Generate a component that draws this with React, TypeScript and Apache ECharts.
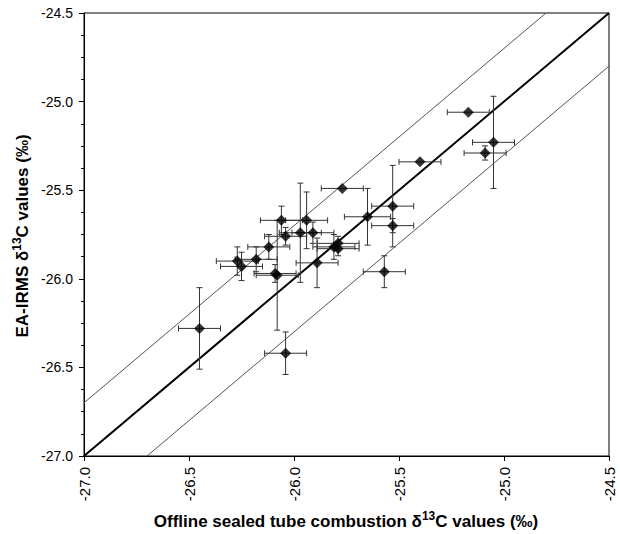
import React, { useEffect, useRef } from "react";
import * as echarts from "echarts";

// Offline sealed tube combustion δ13C (x) vs EA-IRMS δ13C (y), with 1σ errors
const xValues = [
  -26.45, -26.04, -25.17, -25.05, -25.09, -25.4, -25.77, -25.53, -25.65, -25.53,
  -25.57, -25.89, -25.81, -25.79, -25.79, -25.94, -26.06, -25.97, -25.91, -26.04,
  -26.12, -26.18, -26.27, -26.25, -26.08, -26.09,
];
const yValues = [
  -26.28, -26.42, -25.06, -25.23, -25.29, -25.34, -25.49, -25.59, -25.65, -25.7,
  -25.96, -25.91, -25.82, -25.8, -25.83, -25.67, -25.67, -25.74, -25.74, -25.76,
  -25.82, -25.89, -25.9, -25.93, -25.98, -25.97,
];
const xErrors = [
  0.1, 0.1, 0.1, 0.1, 0.1, 0.1, 0.1, 0.1, 0.11, 0.1,
  0.1, 0.1, 0.1, 0.1, 0.1, 0.1, 0.1, 0.1, 0.1, 0.1,
  0.1, 0.1, 0.1, 0.1, 0.1, 0.1,
];
const yErrors = [
  0.23, 0.12, 0, 0.26, 0.04, 0, 0, 0.23, 0.16, 0.04,
  0.09, 0.14, 0.07, 0.04, 0.04, 0.16, 0.08, 0.28, 0.06, 0.05,
  0.07, 0.07, 0.08, 0.08, 0.31, 0.05,
];

// Reference lines: 1:1 and ±0.3 ‰
const oneToOne = [[-27, -27], [-24.5, -24.5]];
const upperLine = [[-27, -26.7], [-24.8, -24.5]];
const lowerLine = [[-26.7, -27], [-24.5, -24.8]];

const axisTicks = { min: -27, max: -24.5, interval: 0.5 };

const FONT = "'Liberation Sans', Arial, sans-serif";

export default function App() {
  const ref = useRef<HTMLDivElement>(null);

  useEffect(() => {
    if (!ref.current) return;
    const chart = echarts.init(ref.current, undefined, { renderer: "svg" });

    const points = xValues.map((x, i) => [x, yValues[i]]);
    const errData = xValues.map((x, i) => [x, yValues[i], xErrors[i], yErrors[i]]);

    const labelStyle = {
      color: "#000",
      fontSize: 14,
      fontFamily: FONT,
      formatter: (v: number) => v.toFixed(1),
    };

    const titleRich = {
      b: { fontSize: 17, fontWeight: "bold", fontFamily: FONT, fill: "#000", color: "#000" },
      s: { fontSize: 12, fontWeight: "bold", fontFamily: FONT, fill: "#000", color: "#000", padding: [0, 0, 10, 0] },
    };

    const option: any = {
      animation: false,
      backgroundColor: "#fff",
      grid: {
        left: 84,
        right: 11,
        top: 13,
        bottom: 78,
        show: true,
        borderColor: "#000",
        borderWidth: 1,
        backgroundColor: "transparent",
      },
      xAxis: {
        type: "value",
        min: axisTicks.min,
        max: axisTicks.max,
        interval: axisTicks.interval,
        axisLine: { show: true, onZero: false, lineStyle: { color: "#000", width: 1 } },
        axisTick: { show: true, inside: false, length: 5, lineStyle: { color: "#000" } },
        axisLabel: { ...labelStyle, fontSize: 15, rotate: 90, margin: 11 },
        splitLine: { show: false },
      },
      yAxis: {
        type: "value",
        min: axisTicks.min,
        max: axisTicks.max,
        interval: axisTicks.interval,
        axisLine: { show: true, onZero: false, lineStyle: { color: "#000", width: 1 } },
        axisTick: { show: true, inside: false, length: 5, lineStyle: { color: "#000" } },
        minorTick: { show: true, splitNumber: 4, length: 3, lineStyle: { color: "#000" } },
        axisLabel: { ...labelStyle, margin: 11 },
        splitLine: { show: false },
        minorSplitLine: { show: false },
      },
      series: [
        {
          type: "line",
          data: upperLine,
          showSymbol: false,
          lineStyle: { color: "#555", width: 1 },
          z: 1,
        },
        {
          type: "line",
          data: lowerLine,
          showSymbol: false,
          lineStyle: { color: "#555", width: 1 },
          z: 1,
        },
        {
          type: "line",
          data: oneToOne,
          showSymbol: false,
          lineStyle: { color: "#000", width: 2 },
          z: 2,
        },
        {
          type: "custom",
          data: errData,
          encode: { x: 0, y: 1 },
          z: 3,
          renderItem: (params: any, api: any) => {
            const x = api.value(0);
            const y = api.value(1);
            const ex = api.value(2);
            const ey = api.value(3);
            const cap = 3;
            const style = { stroke: "#333", lineWidth: 1 };
            const children: any[] = [];
            const l = api.coord([x - ex, y]);
            const r = api.coord([x + ex, y]);
            children.push({ type: "line", shape: { x1: l[0], y1: l[1], x2: r[0], y2: r[1] }, style });
            children.push({ type: "line", shape: { x1: l[0], y1: l[1] - cap, x2: l[0], y2: l[1] + cap }, style });
            children.push({ type: "line", shape: { x1: r[0], y1: r[1] - cap, x2: r[0], y2: r[1] + cap }, style });
            if (ey > 0) {
              const t = api.coord([x, y + ey]);
              const b = api.coord([x, y - ey]);
              children.push({ type: "line", shape: { x1: t[0], y1: t[1], x2: b[0], y2: b[1] }, style });
              children.push({ type: "line", shape: { x1: t[0] - cap, y1: t[1], x2: t[0] + cap, y2: t[1] }, style });
              children.push({ type: "line", shape: { x1: b[0] - cap, y1: b[1], x2: b[0] + cap, y2: b[1] }, style });
            }
            return { type: "group", children };
          },
        },
        {
          type: "scatter",
          data: points,
          symbol: "diamond",
          symbolSize: 11,
          itemStyle: { color: "#000" },
          z: 4,
        },
      ],
      graphic: [
        {
          type: "text",
          x: 346,
          y: 521,
          style: {
            text: "{b|Offline sealed tube combustion δ}{s|13}{b|C values (‰)}",
            align: "center",
            verticalAlign: "middle",
            textAlign: "center",
            textVerticalAlign: "middle",
            rich: titleRich,
          },
        },
        {
          type: "text",
          x: 22,
          y: 236,
          rotation: Math.PI / 2,
          style: {
            text: "{b|EA-IRMS δ}{s|13}{b|C values (‰)}",
            align: "center",
            verticalAlign: "middle",
            textAlign: "center",
            textVerticalAlign: "middle",
            rich: titleRich,
          },
        },
      ],
    };

    chart.setOption(option);
    return () => chart.dispose();
  }, []);

  return (
    <div
      ref={ref}
      style={{ position: "absolute", left: 0, top: 0, width: 620, height: 534, background: "#fff" }}
    />
  );
}
